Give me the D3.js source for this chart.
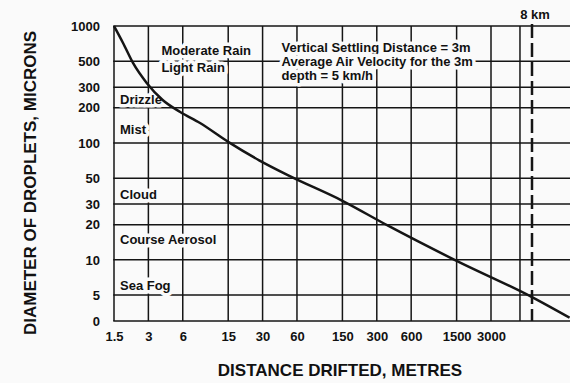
<!DOCTYPE html>
<html>
<head>
<meta charset="utf-8">
<script src="https://cdn.jsdelivr.net/npm/d3@7"></script>
<style>
    body { margin: 0; background: #fafafa; }
    text { font-family: "Liberation Sans", Arial, Helvetica, sans-serif; fill: #111; }
    .halo { stroke: #fafafa; stroke-width: 7px; stroke-linejoin: round; paint-order: stroke; }
</style>
</head>
<body>
<div id="container"></div>
<script>
// tick values on both axes
const distTicks = [1.5, 3, 6, 15, 30, 60, 150, 300, 600, 1500, 3000];
const distExtraGrid = [6000];
const diamTicks = [0, 5, 10, 20, 30, 50, 100, 200, 300, 500, 1000];

// settling curve (metres drifted, microns)
const curveDist = [1.5, 1.8, 2.2, 2.9, 4.0, 5.7, 8.5, 15, 28, 52, 150, 380, 1500, 8000, 15600];
const curveDiam = [1000, 716, 483, 326, 233, 184, 148, 102, 71, 52, 32, 19.5, 9.8, 4.8, 3.2];

// droplet classes and the diameter each label sits at
const bandNames = ['Moderate Rain', 'Light Rain', 'Drizzle', 'Mist', 'Cloud', 'Course Aerosol', 'Sea Fog'];
const bandDiam = [620, 440, 235, 130, 36, 15, 6.1];

const noteLines = ['Vertical Settling Distance = 3m', 'Average Air Velocity for the 3m', 'depth = 5 km/h'];
const limitDist = 8000;
const limitLabel = '8 km';

const task = () => {
    const width = 570, height = 383;
    const ink = '#151515';

    const svg = d3.select('#container')
        .append('svg')
            .attr('width', width)
            .attr('height', height);

    const xScale = d3.scaleLog().domain([1.5, 3000, 8000, 16000]).range([114, 491, 532, 571]);
    const yScale = d3.scaleLog().domain([3, 1000]).range([321, 26]).clamp(true);

    const plotLeft = xScale(1.5), plotRight = width + 1;
    const plotTop = yScale(1000), plotBottom = yScale(0);

    // axes, labels only
    const yAxis = d3.axisLeft(yScale)
        .tickValues(diamTicks)
        .tickFormat(d => d)
        .tickSize(0)
        .tickPadding(14);

    const xAxis = d3.axisBottom(xScale)
        .tickValues(distTicks)
        .tickFormat(d => d)
        .tickSize(0)
        .tickPadding(11);

    svg.append('g')
        .attr('class', 'yaxis')
        .attr('transform', 'translate(' + plotLeft + ',0)')
        .call(yAxis)
        .attr('font-size', 13)
        .attr('font-weight', 'bold')
        .attr('font-family', null)
        .call(g => g.select('.domain').remove());

    svg.append('g')
        .attr('class', 'xaxis')
        .attr('transform', 'translate(0,' + plotBottom + ')')
        .call(xAxis)
        .attr('font-size', 13)
        .attr('font-weight', 'bold')
        .attr('font-family', null)
        .call(g => g.select('.domain').remove());

    // axis titles
    svg.append('text')
        .attr('transform', 'translate(' + 36 + ',' + 183 + ') rotate(-90)')
        .attr('text-anchor', 'middle')
        .style('font-size', '17px')
        .style('font-weight', 'bold')
        .text('DIAMETER OF DROPLETS, MICRONS');

    svg.append('text')
        .attr('transform', 'translate(' + 340 + ',' + 376 + ')')
        .attr('text-anchor', 'middle')
        .style('font-size', '17px')
        .style('font-weight', 'bold')
        .text('DISTANCE DRIFTED, METRES');

    // grid
    const grid = svg.append('g').attr('class', 'grid');

    grid.selectAll('.h')
        .data(diamTicks)
        .enter()
        .append('line')
            .attr('class', 'h')
            .attr('x1', plotLeft - 0.75)
            .attr('x2', plotRight)
            .attr('y1', d => yScale(d))
            .attr('y2', d => yScale(d))
            .attr('stroke', ink)
            .attr('stroke-width', 1.5);

    grid.selectAll('.v')
        .data(distTicks.concat(distExtraGrid))
        .enter()
        .append('line')
            .attr('class', 'v')
            .attr('x1', d => xScale(d))
            .attr('x2', d => xScale(d))
            .attr('y1', plotTop)
            .attr('y2', plotBottom)
            .attr('stroke', ink)
            .attr('stroke-width', 1.5);

    // droplet class labels, haloed so the grid breaks behind them
    svg.append('g')
        .attr('class', 'labels')
        .selectAll('text')
        .data(bandNames)
        .enter()
        .append('text')
            .attr('class', 'halo')
            .attr('x', (d, i) => i < 2 ? xScale(3) + 13 : plotLeft + 6)
            .attr('y', (d, i) => yScale(bandDiam[i]))
            .attr('dy', '0.35em')
            .style('font-size', '13px')
            .style('font-weight', 'bold')
            .text(d => d);

    // note block
    svg.append('g')
        .attr('class', 'note')
        .selectAll('text')
        .data(noteLines)
        .enter()
        .append('text')
            .attr('class', 'halo')
            .attr('x', xScale(44))
            .attr('y', (d, i) => 52 + i * 14)
            .style('font-size', '13px')
            .style('font-weight', 'bold')
            .text(d => d);

    // the settling curve
    const points = curveDist.map((d, i) => [d, curveDiam[i]]);
    const lineGen = d3.line()
        .x(d => xScale(d[0]))
        .y(d => yScale(d[1]))
        .curve(d3.curveMonotoneX);

    svg.append('path')
        .datum(points)
        .attr('d', lineGen)
        .attr('fill', 'none')
        .attr('stroke', ink)
        .attr('stroke-width', 2.5);

    // 8 km limit
    svg.append('line')
        .attr('x1', xScale(limitDist))
        .attr('x2', xScale(limitDist))
        .attr('y1', plotTop - 2)
        .attr('y2', plotBottom)
        .attr('stroke', ink)
        .attr('stroke-width', 2.5)
        .attr('stroke-dasharray', '14,5');

    svg.append('text')
        .attr('x', xScale(limitDist) + 3)
        .attr('y', 19)
        .attr('text-anchor', 'middle')
        .style('font-size', '13px')
        .style('font-weight', 'bold')
        .text(limitLabel);
};

task();
</script>
</body>
</html>
